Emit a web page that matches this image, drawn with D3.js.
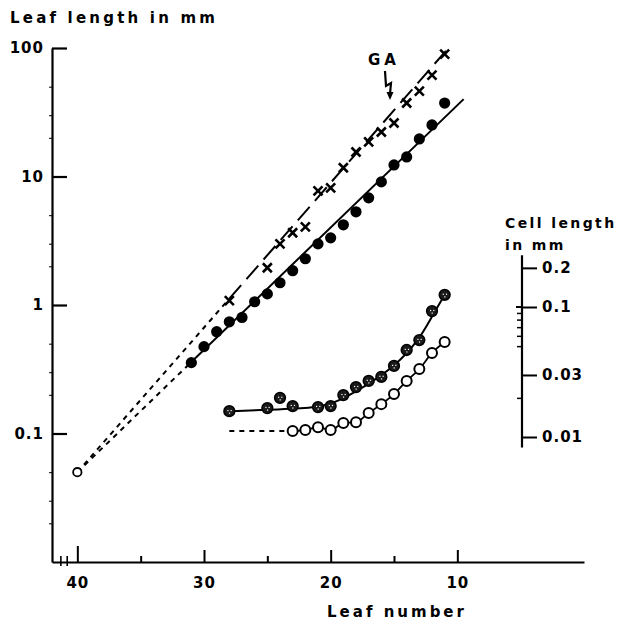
<!DOCTYPE html>
<html>
<head>
<meta charset="utf-8">
<script src="https://cdn.jsdelivr.net/npm/d3@7"></script>
<style>
  body { margin: 0; background: #fff; }
  svg { display: block; }
  text { font-family: "DejaVu Sans", sans-serif; fill: #000; }
</style>
</head>
<body>
<svg id="chart" width="624" height="622"></svg>
<script>
// ---- Data ----
// Leaf length (mm), crosses vs. filled dots
const crossLeaf   = [28, 25, 24, 23, 22, 21, 20, 19, 18, 17, 16, 15, 14, 13, 12, 11];
const crossLength = [1.08, 1.95, 2.99, 3.65, 4.06, 7.73, 8.16, 11.7, 15.5, 18.6, 22.2, 26.1, 37.3, 46.2, 61.5, 89.7];

const dotLeaf   = [31, 30, 29, 28, 27, 26, 25, 24, 23, 22, 21, 20, 19, 18, 17, 16, 15, 14, 13, 12, 11];
const dotLength = [0.356, 0.474, 0.62, 0.74, 0.80, 1.06, 1.22, 1.49, 1.85, 2.29, 2.99, 3.33, 4.21, 5.31, 6.82, 9.08, 12.3, 14.2, 19.6, 25.2, 37.3];

// Starting point (open circle) at leaf 40
const originLeaf = [40];
const originLength = [0.05];

// Fitted lines (leaf number, length)
const crossFitLeaf = [40, 28, 10.9];
const crossFitLength = [0.05, 1.12, 95];
const dotFitLeaf = [40, 31, 9.5];
const dotFitLength = [0.05, 0.36, 40];

// Cell length (mm), right axis
const hatchLeaf = [28, 25, 24, 23, 21, 20, 19, 18, 17, 16, 15, 14, 13, 12, 11];
const hatchCell = [0.0158, 0.0167, 0.020, 0.0173, 0.0170, 0.0173, 0.0210, 0.0242, 0.0270, 0.0290, 0.0352, 0.0467, 0.0557, 0.093, 0.124];
const hatchFitLeaf = [28, 24, 21, 19.5, 17, 15, 13, 12, 11];
const hatchFitCell = [0.0158, 0.0163, 0.0168, 0.0185, 0.0255, 0.0345, 0.056, 0.085, 0.124];

const openLeaf = [23, 22, 21, 20, 19, 18, 17, 16, 15, 14, 13, 12, 11];
const openCell = [0.0111, 0.0113, 0.0119, 0.0113, 0.0128, 0.0130, 0.0153, 0.0179, 0.0214, 0.0270, 0.0333, 0.0443, 0.0538];
const openDashLeaf = [28, 23.5];
const openDashCell = [0.0111, 0.0111];

// Tick values
const leftTicks = [0.1, 1, 10, 100];
const leftTickLabels = ["0.1", "1", "10", "100"];
const leftMinor = [0.02, 0.03, 0.05, 0.2, 0.3, 0.5, 2, 3, 5, 20, 30, 50];
const bottomTicks = [40, 30, 20, 10];
const bottomMinor = [35, 25, 15];
const rightTicks = [0.01, 0.03, 0.1, 0.2];
const rightTickLabels = ["0.01", "0.03", "0.1", "0.2"];
const rightMinor = [0.02, 0.05, 0.06, 0.07, 0.08, 0.09];

// ---- Scales ----
const svg = d3.select("#chart");
const x = d3.scaleLinear().domain([42, 0]).range([52, 584]);
const y = d3.scaleLog().domain([0.01, 100]).range([562, 48]);
const y2 = d3.scaleLog().domain([0.001, 10]).range([567, 47]);

const ink = "#000";

// ---- Left axis ----
const leftAxis = d3.axisLeft(y).tickValues(leftTicks)
  .tickFormat((d, i) => leftTickLabels[i])
  .tickSizeInner(-15).tickSizeOuter(0).tickPadding(8);
const gL = svg.append("g").attr("transform", "translate(52,0)").call(leftAxis);
gL.select(".domain").attr("stroke", ink).attr("stroke-width", 2.2);
gL.selectAll(".tick line").attr("stroke", ink).attr("stroke-width", 2.2);
gL.selectAll(".tick text").style("font-size", "15px").style("font-weight", "bold")
  .style("letter-spacing", "1px").attr("fill", ink);

const leftMinorAxis = d3.axisLeft(y).tickValues(leftMinor).tickFormat("").tickSizeInner(3).tickSizeOuter(0);
const gLm = svg.append("g").attr("transform", "translate(52,0)").call(leftMinorAxis);
gLm.select(".domain").remove();
gLm.selectAll(".tick line").attr("stroke", ink).attr("stroke-width", 1);

// ---- Bottom axis ----
const bottomAxis = d3.axisBottom(x).tickValues(bottomTicks)
  .tickFormat(d3.format("d")).tickSizeInner(-12).tickSizeOuter(0).tickPadding(15);
const gB = svg.append("g").attr("transform", "translate(0,562)").call(bottomAxis);
gB.select(".domain").attr("stroke", ink).attr("stroke-width", 2.2);
gB.selectAll(".tick line").attr("stroke", ink).attr("stroke-width", 2)
  .attr("y2", d => d === 40 ? -16 : -12);
gB.selectAll(".tick text").style("font-size", "15px").style("font-weight", "bold")
  .style("letter-spacing", "1px").attr("fill", ink);

const bottomMinorAxis = d3.axisBottom(x).tickValues(bottomMinor).tickFormat("").tickSizeInner(-6).tickSizeOuter(0);
const gBm = svg.append("g").attr("transform", "translate(0,562)").call(bottomMinorAxis);
gBm.select(".domain").remove();
gBm.selectAll(".tick line").attr("stroke", ink).attr("stroke-width", 2);

// axis break marks
const breakX = [41.3, 40.8];
svg.append("g").selectAll("line").data(breakX).join("line")
  .attr("x1", d => x(d)).attr("x2", d => x(d))
  .attr("y1", 556).attr("y2", 566)
  .attr("stroke", ink).attr("stroke-width", 1.6);

// ---- Right axis ----
const rightAxis = d3.axisRight(y2).tickValues(rightTicks)
  .tickFormat((d, i) => rightTickLabels[i])
  .tickSizeInner(15).tickSizeOuter(0).tickPadding(5);
const gR = svg.append("g").attr("transform", "translate(522,0)").call(rightAxis);
gR.select(".domain").remove();
gR.selectAll(".tick line").attr("stroke", ink).attr("stroke-width", 2);
gR.selectAll(".tick text").style("font-size", "15px").style("font-weight", "bold")
  .style("letter-spacing", "1px").attr("fill", ink);
svg.append("line").attr("x1", 522).attr("x2", 522)
  .attr("y1", y2(0.25)).attr("y2", y2(0.0083))
  .attr("stroke", ink).attr("stroke-width", 2.2);
const rightMinorAxis = d3.axisLeft(y2).tickValues(rightMinor).tickFormat("").tickSizeInner(5).tickSizeOuter(0);
const gRm = svg.append("g").attr("transform", "translate(522,0)").call(rightMinorAxis);
gRm.select(".domain").remove();
gRm.selectAll(".tick line").attr("stroke", ink).attr("stroke-width", 1.5);
svg.append("line").attr("x1", 516).attr("x2", 522).attr("y1", y2(0.1)).attr("y2", y2(0.1))
  .attr("stroke", ink).attr("stroke-width", 2);

// ---- Titles ----
svg.append("text").attr("x", 10).attr("y", 23)
  .style("font-size", "15px").style("font-weight", "bold").style("letter-spacing", "3.2px")
  .text("Leaf length in mm");
svg.append("text").attr("x", 505).attr("y", 228)
  .style("font-size", "14px").style("font-weight", "bold").style("letter-spacing", "2.4px")
  .text("Cell length");
svg.append("text").attr("x", 505).attr("y", 250)
  .style("font-size", "14px").style("font-weight", "bold").style("letter-spacing", "2.4px")
  .text("in mm");
svg.append("text").attr("x", 397).attr("y", 617).attr("text-anchor", "middle")
  .style("font-size", "15px").style("font-weight", "bold").style("letter-spacing", "3px")
  .text("Leaf number");
svg.append("text").attr("x", 368).attr("y", 65)
  .style("font-size", "15px").style("font-weight", "bold").style("letter-spacing", "4px")
  .text("GA");
// lightning arrow under GA
svg.append("path").attr("d", "M385,71 L386,86 L391,83 L390,94")
  .attr("fill", "none").attr("stroke", ink).attr("stroke-width", 2.2);
svg.append("path").attr("d", "M386.5,92 L393.5,92 L390,100 Z").attr("fill", ink);

// ---- Lines ----
const lineL = d3.line().x(d => x(d[0])).y(d => y(d[1]));

const crossFit = crossFitLeaf.map((n, i) => [n, crossFitLength[i]]);
svg.append("path").attr("d", lineL(crossFit.slice(0, 2)))
  .attr("fill", "none").attr("stroke", ink).attr("stroke-width", 2).attr("stroke-dasharray", "5,5");
svg.append("path").attr("d", lineL(crossFit.slice(1)))
  .attr("fill", "none").attr("stroke", ink).attr("stroke-width", 2).attr("stroke-dasharray", "18,8");

const dotFit = dotFitLeaf.map((n, i) => [n, dotFitLength[i]]);
svg.append("path").attr("d", lineL(dotFit.slice(0, 2)))
  .attr("fill", "none").attr("stroke", ink).attr("stroke-width", 2).attr("stroke-dasharray", "5,5");
svg.append("path").attr("d", lineL(dotFit.slice(1)))
  .attr("fill", "none").attr("stroke", ink).attr("stroke-width", 2);

const hatchFit = hatchFitLeaf.map((n, i) => [n, hatchFitCell[i]]);
svg.append("path").attr("d", d3.line().x(d => x(d[0])).y(d => y2(d[1])).curve(d3.curveBasis)(hatchFit))
  .attr("fill", "none").attr("stroke", ink).attr("stroke-width", 2);

const openPts = openLeaf.map((n, i) => [n, openCell[i]]);
svg.append("path").attr("d", d3.line().x(d => x(d[0])).y(d => y2(d[1])).curve(d3.curveMonotoneX)(openPts))
  .attr("fill", "none").attr("stroke", ink).attr("stroke-width", 1.8);
svg.append("path").attr("d", d3.line().x(d => x(d[0])).y(d => y2(d[1]))(openDashLeaf.map((n, i) => [n, openDashCell[i]])))
  .attr("fill", "none").attr("stroke", ink).attr("stroke-width", 2).attr("stroke-dasharray", "5,5");

// ---- Markers ----
const cs = 4.5;
svg.append("g").selectAll("path").data(crossLeaf.map((n, i) => [n, crossLength[i]])).join("path")
  .attr("d", d => {
    const cx = x(d[0]), cy = y(d[1]);
    return `M${cx - cs},${cy - cs}L${cx + cs},${cy + cs}M${cx - cs},${cy + cs}L${cx + cs},${cy - cs}`;
  })
  .attr("stroke", ink).attr("stroke-width", 2.6).attr("fill", "none");

svg.append("g").selectAll("circle").data(dotLeaf.map((n, i) => [n, dotLength[i]])).join("circle")
  .attr("cx", d => x(d[0])).attr("cy", d => y(d[1])).attr("r", 5.6).attr("fill", ink);

svg.append("g").selectAll("circle").data(originLeaf.map((n, i) => [n, originLength[i]])).join("circle")
  .attr("cx", d => x(d[0])).attr("cy", d => y(d[1])).attr("r", 4.2)
  .attr("fill", "#fff").attr("stroke", ink).attr("stroke-width", 1.8);

const hg = svg.append("g").selectAll("g").data(hatchLeaf.map((n, i) => [n, hatchCell[i]])).join("g")
  .attr("transform", d => `translate(${x(d[0])},${y2(d[1])})`);
hg.append("circle").attr("r", 5.4).attr("fill", "#1a1a1a").attr("stroke", ink).attr("stroke-width", 1.5);
hg.selectAll("rect").data([[-2, -1.2], [1.2, -1.2], [-0.4, 1.4]]).join("rect")
  .attr("x", d => d[0]).attr("y", d => d[1]).attr("width", 1.2).attr("height", 1.2).attr("fill", "#fff");

svg.append("g").selectAll("circle").data(openPts).join("circle")
  .attr("cx", d => x(d[0])).attr("cy", d => y2(d[1])).attr("r", 5)
  .attr("fill", "#fff").attr("stroke", ink).attr("stroke-width", 2);
</script>
</body>
</html>
